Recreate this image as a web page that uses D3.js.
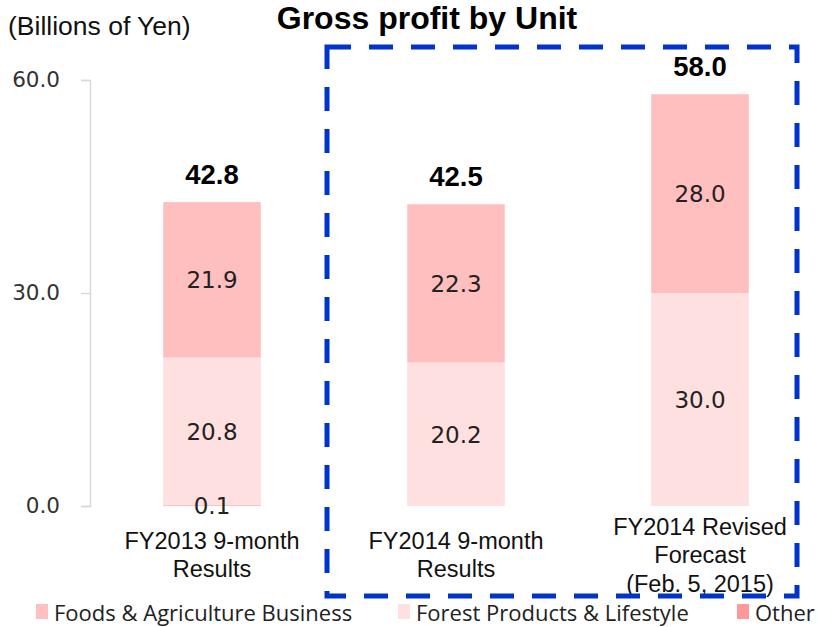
<!DOCTYPE html>
<html>
<head>
<meta charset="utf-8">
<script src="https://cdn.jsdelivr.net/npm/d3@7"></script>
<style>
  body { margin: 0; background: #fff; }
  svg { display: block; }
</style>
</head>
<body>
<svg id="chart" width="817" height="627"></svg>
<script>
// data
var categories = ["FY2013 9-month\nResults", "FY2014 9-month\nResults", "FY2014 Revised\nForecast\n(Feb. 5, 2015)"]
var seriesNames = ["Other", "Forest Products & Lifestyle", "Foods & Agriculture Business"]
var otherVals = [0.1, 0, 0]
var forestVals = [20.8, 20.2, 30.0]
var foodsVals = [21.9, 22.3, 28.0]
var totals = [42.8, 42.5, 58.0]
var yTicks = [0, 30, 60]
var legendNames = ["Foods & Agriculture Business", "Forest Products & Lifestyle", "Other"]

var colors = {
  "Foods & Agriculture Business": "#ffbfbf",
  "Forest Products & Lifestyle": "#ffe0e0",
  "Other": "#ff9999"
}

var svg = d3.select("#chart")

var x = d3.scaleBand().domain(categories).range([90, 822]).paddingInner(0.6).paddingOuter(0.3)
var y = d3.scaleLinear().domain([0, 60]).range([506, 80])

// stack table
var rows = categories.map(function(c, i) {
  return { cat: c, "Other": otherVals[i], "Forest Products & Lifestyle": forestVals[i], "Foods & Agriculture Business": foodsVals[i] }
})
var stacked = d3.stack().keys(seriesNames)(rows)

// y axis
var yAxis = d3.axisLeft(y).tickValues(yTicks).tickFormat(d3.format(".1f")).tickSize(9).tickPadding(21)
var ag = svg.append("g").attr("transform", "translate(90,0)").call(yAxis)
ag.select(".domain").attr("stroke", "#d9d9d9").attr("stroke-width", 1.5)
ag.selectAll(".tick line").attr("stroke", "#d9d9d9").attr("stroke-width", 1.5)
ag.selectAll(".tick text").attr("fill", "#333").style("font-family", "DejaVu Sans").style("font-size", "21.5px")

// bars
var layers = svg.append("g").selectAll("g").data(stacked).enter().append("g")
  .attr("fill", function(d) { return colors[d.key] })

layers.selectAll("rect").data(function(d) { return d }).enter()
  .append("rect")
  .attr("x", function(d) { return x(d.data.cat) })
  .attr("width", x.bandwidth())
  .attr("y", function(d) { return y(d[1]) })
  .attr("height", function(d) { return Math.max(0, y(d[0]) - y(d[1])) })

// segment labels
stacked.forEach(function(layer) {
  layer.forEach(function(d) {
    var v = d[1] - d[0]
    if (v <= 0) return
    svg.append("text")
      .attr("x", x(d.data.cat) + x.bandwidth() / 2)
      .attr("y", y((d[0] + d[1]) / 2))
      .attr("dy", "0.36em")
      .attr("text-anchor", "middle")
      .style("font-family", "DejaVu Sans")
      .style("font-size", "23px")
      .attr("fill", "#222")
      .text(v.toFixed(1))
  })
})

// totals
svg.selectAll(".total").data(totals).enter()
  .append("text")
  .attr("class", "total")
  .attr("x", function(d, i) { return x(categories[i]) + x.bandwidth() / 2 })
  .attr("y", function(d) { return y(d) - 18 })
  .attr("text-anchor", "middle")
  .style("font-family", "Liberation Sans, Arial")
  .style("font-weight", "bold")
  .style("font-size", "27.5px")
  .text(function(d) { return d.toFixed(1) })

// category labels
categories.forEach(function(c) {
  var lines = c.split("\n")
  var t = svg.append("text")
    .attr("text-anchor", "middle")
    .style("font-family", "Liberation Sans, Arial")
    .style("font-size", "23.5px")
    .attr("fill", "#111")
  var y0 = 561 - (lines.length - 1) * 28.5 / 2 + 2
  lines.forEach(function(l, j) {
    t.append("tspan").attr("x", x(c) + x.bandwidth() / 2).attr("y", y0 + j * 28.5).text(l)
  })
})

// title and unit
svg.append("text").attr("x", 427).attr("y", 29).attr("text-anchor", "middle")
  .style("font-family", "Liberation Sans, Arial").style("font-weight", "bold").style("font-size", "32px")
  .text("Gross profit by Unit")
svg.append("text").attr("x", 8).attr("y", 35)
  .style("font-family", "Liberation Sans, Arial").style("font-size", "26.5px").attr("fill", "#111")
  .text("(Billions of Yen)")

// dashed box
svg.append("rect").attr("x", 327).attr("y", 47).attr("width", 470).attr("height", 549)
  .attr("fill", "none").attr("stroke", "#0033cc").attr("stroke-width", 5)
  .attr("stroke-dasharray", "24,18")

// legend
var legendX = [36, 398, 737]
legendNames.forEach(function(n, i) {
  svg.append("rect").attr("x", legendX[i]).attr("y", 604).attr("width", 12).attr("height", 15).attr("fill", colors[n])
  svg.append("text").attr("x", legendX[i] + 18).attr("y", 620.5)
    .style("font-family", "Open Sans").style("font-size", "22px").attr("fill", "#222")
    .text(n)
})
</script>
</body>
</html>
